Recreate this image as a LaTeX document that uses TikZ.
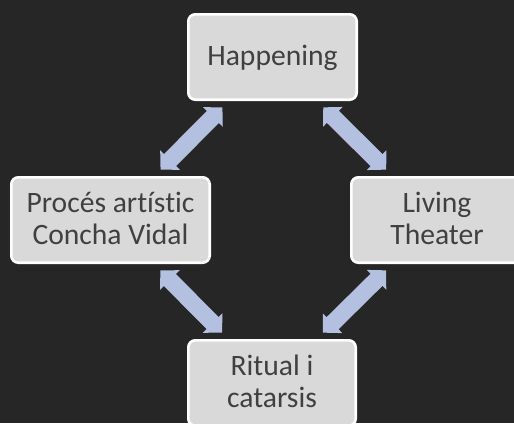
\documentclass[tikz,border=0pt]{standalone}
\usepackage{fontspec}
\setmainfont{Carlito}[RawFeature={-liga;-clig;-dlig}]
\usetikzlibrary{arrows.meta}
\definecolor{bg}{HTML}{262626}
\definecolor{boxfill}{HTML}{D9D9D9}
\definecolor{txt}{HTML}{404040}
\definecolor{arrowc}{HTML}{B4C0E0}
\newcommand{\onel}[1]{\raisebox{0pt}[19pt][2pt]{#1}}
\newcommand{\twol}[2]{\raisebox{0pt}[51pt][2pt]{\begin{tabular}[b]{@{}c@{}}#1\\#2\end{tabular}}}
\begin{document}
\begin{tikzpicture}[x=1pt,y=-1pt,
  box/.style={draw=white, line width=2.6pt, fill=boxfill, rounded corners=7pt,
    text=txt, inner sep=0pt, font=\fontsize{29.6}{32}\selectfont},
  biarrow/.style={draw=arrowc, line width=17pt,
    {Triangle[width=27pt,length=13.5pt]}-{Triangle[width=27pt,length=13.5pt]},
    shorten <=9pt, shorten >=9pt}]
\path[use as bounding box, fill=bg] (0,0) rectangle (514,423);
\clip (0,0) rectangle (514,423);
\node[box, minimum width=168.4pt, minimum height=85.4pt] (T) at (272.5,57) {\onel{Happening}};
\node[box, minimum width=198.4pt, minimum height=85.4pt] (L) at (110.5,220) {\twol{Procés artístic}{Concha Vidal}};
\node[box, minimum width=171.4pt, minimum height=85.4pt] (R) at (437,220) {\twol{Living}{Theater}};
\node[box, minimum width=167.4pt, minimum height=85.4pt] (B) at (272,383) {\twol{Ritual i}{catarsis}};
\draw[biarrow] (L) -- (T);
\draw[biarrow] (T) -- (R);
\draw[biarrow] (L) -- (B);
\draw[biarrow] (R) -- (B);
\end{tikzpicture}
\end{document}
